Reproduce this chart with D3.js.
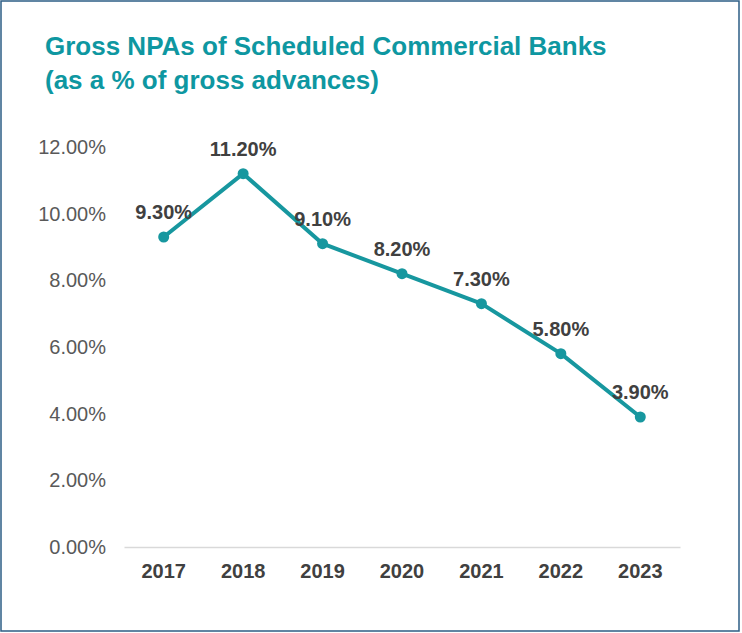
<!DOCTYPE html>
<html><head><meta charset="utf-8">
<script src="https://cdn.jsdelivr.net/npm/d3@7"></script>
<style>body{margin:0;background:#fff}svg{display:block}</style>
</head><body>
<script>
const years = ["2017","2018","2019","2020","2021","2022","2023"];
const npa = [9.3, 11.2, 9.1, 8.2, 7.3, 5.8, 3.9];
const yTicks = [0, 2, 4, 6, 8, 10, 12];
const titleLines = ["Gross NPAs of Scheduled Commercial Banks", "(as a % of gross advances)"];

const W = 742, H = 633;
const FONT = "Liberation Sans, Arial, sans-serif";
const svg = d3.select("body").append("svg").attr("width", W).attr("height", H);
svg.append("rect").attr("x", 1).attr("y", 1).attr("width", W - 4).attr("height", H - 3)
  .attr("fill", "#fff").attr("stroke", "#2c5d85").attr("stroke-width", 1.5);

const teal = "#17979f";
svg.selectAll("text.title").data(titleLines).enter().append("text")
  .attr("x", 45).attr("y", (d, i) => 55 + i * 34)
  .attr("font-family", FONT).attr("font-weight", "bold")
  .attr("font-size", 26).attr("fill", "#0e97a1").text(d => d);

const x = d3.scaleBand().domain(years).range([124, 680]);
const y = d3.scaleLinear().domain([0, 12]).range([547, 147]);

const yAxis = svg.append("g").attr("transform", "translate(124,0)")
  .call(d3.axisLeft(y).tickValues(yTicks).tickSize(0).tickPadding(18).tickFormat(d => d.toFixed(2) + "%"));
yAxis.select(".domain").remove();
yAxis.selectAll("text").attr("font-family", FONT).attr("font-size", 20).attr("fill", "#595959");

const xAxis = svg.append("g").attr("transform", "translate(0,547)")
  .call(d3.axisBottom(x).tickSize(0).tickPadding(17));
xAxis.select(".domain").attr("stroke", "#d9d9d9").attr("stroke-width", 1.5);
xAxis.selectAll("text").attr("font-family", FONT).attr("font-size", 20)
  .attr("font-weight", "bold").attr("fill", "#404040");

const cx = d => x(d) + x.bandwidth() / 2;
const data = years.map((yr, i) => ({yr, v: npa[i]}));
svg.append("path").datum(data)
  .attr("d", d3.line().x(d => cx(d.yr)).y(d => y(d.v)))
  .attr("fill", "none").attr("stroke", teal).attr("stroke-width", 4).attr("stroke-linejoin", "round");
svg.selectAll("circle.pt").data(data).enter().append("circle")
  .attr("cx", d => cx(d.yr)).attr("cy", d => y(d.v)).attr("r", 5.5).attr("fill", teal);
svg.selectAll("text.lbl").data(data).enter().append("text")
  .attr("x", d => cx(d.yr)).attr("y", d => y(d.v) - 18).attr("text-anchor", "middle")
  .attr("font-family", FONT).attr("font-size", 20).attr("font-weight", "bold")
  .attr("fill", "#404040").text(d => d.v.toFixed(2) + "%");
</script>
</body></html>
